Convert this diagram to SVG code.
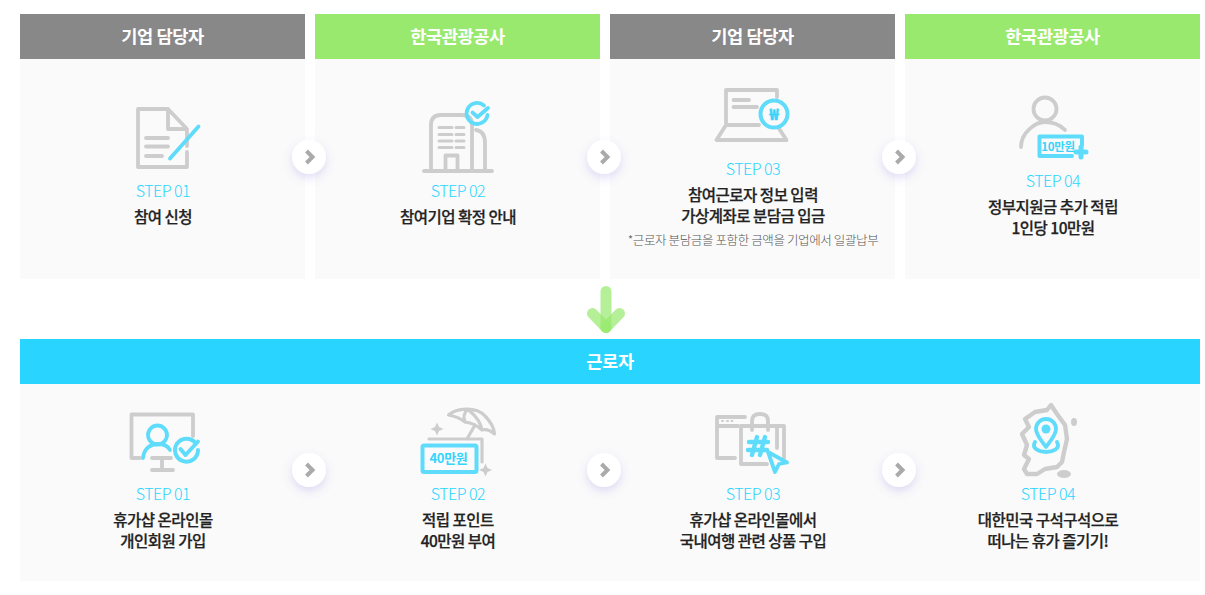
<svg xmlns="http://www.w3.org/2000/svg" width="1205" height="595" viewBox="0 0 1205 595">
<style>
text{font-family:"Noto Sans CJK KR","Noto Sans",sans-serif;text-anchor:middle}
.body{fill:#fafafa}
.hg{fill:#888888}.hl{fill:#99e96f}.hc{fill:#29d5ff}
.ht{fill:#fff;font-size:17.6px;font-weight:700;letter-spacing:-.4px}
.st{fill:#29d5ff;font-size:16px;font-weight:300;letter-spacing:-.5px}
.tt{fill:#222;stroke:#222;stroke-width:.25px;font-size:15.5px;font-weight:500;letter-spacing:-.5px}
.nt{fill:#555;font-size:12.5px;font-weight:300;letter-spacing:-.38px}
.g{fill:none;stroke:#cdcdcd;stroke-width:3.8;stroke-linecap:round;stroke-linejoin:round}
.c{fill:none;stroke:#5fdcfb;stroke-width:3.8;stroke-linecap:round;stroke-linejoin:round}
.gf{fill:#cdcdcd}.cf{fill:#5fdcfb}
.ic{fill:#35d4fb;font-weight:700;letter-spacing:-.3px}
.btn{fill:#fff;filter:url(#sh)}
.chev{fill:none;stroke:#aaa;stroke-width:4;stroke-linecap:butt;stroke-linejoin:miter}
.ar{fill:none;stroke:#99e96f;stroke-width:11;stroke-linecap:round;opacity:.72}
</style>
<defs>
<filter id="sh" x="-60%" y="-60%" width="220%" height="220%"><feDropShadow dx="0" dy="4" stdDeviation="5" flood-color="#7a66e0" flood-opacity=".22"/></filter>
</defs>
<rect width="1205" height="595" fill="#fff"/>

<g id="node-top-1">
<rect class="body" x="20" y="59" width="285" height="220"/><rect class="hg" x="20" y="14" width="285" height="45"/>
<text class="ht" x="162.500" y="43">기업 담당자</text>
<path class="g" d="M168 109H138V167H187V152M187 131V146M168 109V129H187L168 109Z"/>
<path class="g" d="M146 138H168M146 146.500H168M146 156H162"/>
<path class="c" d="M170 158.500L198.500 126.500"/>
<text class="st" x="163" y="196.500">STEP 01</text>
<text class="tt" x="163" y="222.500">참여 신청</text>
</g>

<g id="node-top-2">
<rect class="body" x="315" y="59" width="285" height="220"/><rect class="hl" x="315" y="14" width="285" height="45"/>
<text class="ht" x="457.500" y="43">한국관광공사</text>
<path class="g" d="M424 171H492M431 171V125Q431 115 441 115H462Q472 115 472 125V171M476 130Q485 131 485 143V171M445.500 171V155.500H457.500V171"/>
<path class="g" d="M439 127.500H452M456 127.500H464M439 134.500H452M456 134.500H464M439 141H452M456 141H464M439 147.500H452M456 147.500H464" style="stroke-width:3"/>
<path class="c" d="M484 105.500A10.500 10.500 0 1 0 487.500 115M472.500 112.500L477.500 117L488 108"/>
<text class="st" x="458" y="196.500">STEP 02</text>
<text class="tt" x="458" y="222.500">참여기업 확정 안내</text>
</g>

<g id="node-top-3">
<rect class="body" x="610" y="59" width="285" height="220"/><rect class="hg" x="610" y="14" width="285" height="45"/>
<text class="ht" x="752.500" y="43">기업 담당자</text>
<path class="g" d="M726 123V90H777V97M726 125L716.500 140H786.500L778 127M727 125H759M733.500 100H749M733.500 107H757"/>
<circle class="c" cx="774" cy="114" r="13.500" style="stroke-width:4"/>
<text class="ic" x="774" y="119.500" font-size="15.500" style="stroke:#35d4fb;stroke-width:.4px">₩</text>
<text class="st" x="753" y="174.500">STEP 03</text>
<text class="tt" x="753" y="200.500">참여근로자 정보 입력</text>
<text class="tt" x="753" y="221.500">가상계좌로 분담금 입금</text>
<text class="nt" x="753" y="244.500">*근로자 분담금을 포함한 금액을 기업에서 일괄납부</text>
</g>

<g id="node-top-4">
<rect class="body" x="905" y="59" width="295" height="220"/><rect class="hl" x="905" y="14" width="295" height="45"/>
<text class="ht" x="1052.500" y="43">한국관광공사</text>
<circle class="g" cx="1045" cy="109" r="11.500"/>
<path class="g" d="M1021 147C1021 132 1036 122 1045 122C1054 122 1060 125 1065 130"/>
<path class="c" d="M1082 145V136.500H1039.500V156H1072" style="fill:#fafafa;stroke-width:4"/>
<path class="c" d="M1081 147V157M1076 152H1086" style="stroke-width:5"/>
<text class="ic" x="1058" y="151" font-size="11.500">10만원</text>
<text class="st" x="1053" y="186.500">STEP 04</text>
<text class="tt" x="1053" y="212.500">정부지원금 추가 적립</text>
<text class="tt" x="1053" y="233.500">1인당 10만원</text>
</g>

<g id="node-worker-header">
<rect class="body" x="20" y="384" width="1180" height="197"/><rect class="hc" x="20" y="339" width="1180" height="45"/>
<text class="ht" x="610" y="368">근로자</text>
</g>

<g id="node-bottom-1">
<path class="g" d="M193 436V414.500H131.500V458H140M152 458H171M162 458V470M152 470H173"/>
<circle class="c" cx="157.500" cy="435" r="9.500"/>
<path class="c" d="M143 458C144 448 151 444 157.500 444C163 444 168 446 170 450"/>
<path class="c" d="M195.500 443A11.500 11.500 0 1 0 198 450M180.500 449L185.500 455L198 441.500" style="stroke-width:4"/>
<text class="st" x="163" y="499.500">STEP 01</text>
<text class="tt" x="163" y="525.500">휴가샵 온라인몰</text>
<text class="tt" x="163" y="546.500">개인회원 가입</text>
</g>

<g id="node-bottom-2">
<path class="g" style="stroke-width:3.200" d="M448.500 415C456 408 476 406 485 416C491 422 494 428 494.500 434C490 430 486 429 482 430C478 426 472 423 465 422C460 418 454 416 448.500 415ZM468 409.500C462 414 464 419 465 422M468 409.500C476 416 481 423 482 430M475 425L467 439M429 439H482V462"/>
<path class="gf" d="M437 422.500L439 427L443.500 429L439 431L437 435.500L435 431L430.500 429L435 427ZM485.500 463.500L487.500 468L492 470L487.500 472L485.500 476.500L483.500 472L479 470L483.500 468Z"/>
<rect class="c" x="422.500" y="445.500" width="54" height="26.500" rx="1.500" style="fill:#fbfbfb;stroke-width:4"/>
<text class="ic" x="448.500" y="463" font-size="13">40만원</text>
<text class="st" x="458" y="499.500">STEP 02</text>
<text class="tt" x="458" y="525.500">적립 포인트</text>
<text class="tt" x="458" y="546.500">40만원 부여</text>
</g>

<g id="node-bottom-3">
<path class="g" d="M735 458H717V417H745M717 426H738"/>
<path class="g" d="M722 421H723M727 421H728M731.500 421H732.500" style="stroke-width:2"/>
<path class="g" d="M767 464H741V426H784V458M777 426V448M752 430V421Q752 414 760 414Q768 414 768 421V430"/>
<path class="c" d="M757 437L752 455M765 437L760 455M749 442H768M748 450H767" style="stroke-width:4.400"/>
<path class="c" d="M768 452L787 462.500L779 464L775 472Z"/>
<text class="st" x="753" y="499.500">STEP 03</text>
<text class="tt" x="753" y="525.500">휴가샵 온라인몰에서</text>
<text class="tt" x="753" y="546.500">국내여행 관련 상품 구입</text>
</g>

<g id="node-bottom-4">
<path class="g" style="stroke-width:4.400" d="M1051 405L1057 414L1065 425L1067 439L1064 452L1062 462L1057 467L1045 469L1037 474L1027 474L1024 469L1029 459L1024 455L1027 445L1022 434L1029 427L1025 419L1035 412L1047 410Z"/>
<ellipse class="gf" cx="1074" cy="422" rx="3" ry="4"/>
<ellipse class="gf" cx="1064" cy="474" rx="7" ry="4"/>
<path class="c" d="M1046 447C1041 440 1036 435 1036 429A10 10 0 1 1 1056 429C1056 435 1051 440 1046 447Z"/>
<circle class="cf" cx="1046" cy="429" r="4.500"/>
<path class="c" d="M1035 442C1031 449 1040 452 1046 452C1052 452 1061 449 1057 442"/>
<text class="st" x="1048" y="499.500">STEP 04</text>
<text class="tt" x="1048" y="525.500">대한민국 구석구석으로</text>
<text class="tt" x="1048" y="546.500">떠나는 휴가 즐기기!</text>
</g>

<g id="connectors">
<circle class="btn" cx="309" cy="157" r="17"/><path class="chev" d="M306.500 151L312.500 157L306.500 163"/>
<circle class="btn" cx="604" cy="157" r="17"/><path class="chev" d="M601.500 151L607.500 157L601.500 163"/>
<circle class="btn" cx="899" cy="157" r="17"/><path class="chev" d="M896.500 151L902.500 157L896.500 163"/>
<circle class="btn" cx="309" cy="470" r="17"/><path class="chev" d="M306.500 464L312.500 470L306.500 476"/>
<circle class="btn" cx="604" cy="470" r="17"/><path class="chev" d="M601.500 464L607.500 470L601.500 476"/>
<circle class="btn" cx="899" cy="470" r="17"/><path class="chev" d="M896.500 464L902.500 470L896.500 476"/>
<path class="ar" d="M606 291.500V327"/>
<path class="ar" d="M592.500 313.500L606 327.500"/>
<path class="ar" d="M619.500 313.500L606 327.500"/>
</g>
</svg>
